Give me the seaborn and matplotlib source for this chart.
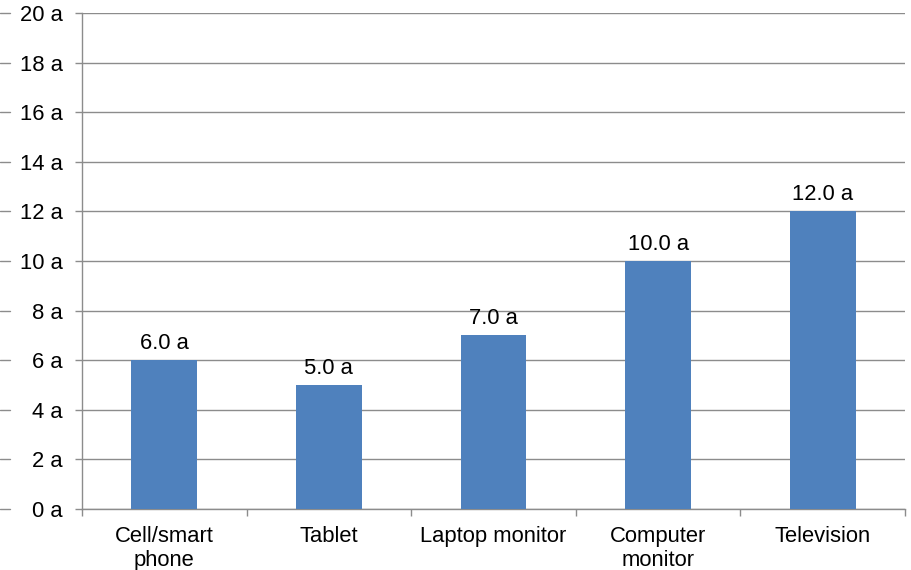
import matplotlib
matplotlib.use("Agg")
import matplotlib.pyplot as plt
import matplotlib.transforms as mtransforms
import seaborn as sns
import pandas as pd

categories = ["Cell/smart\nphone", "Tablet", "Laptop monitor", "Computer\nmonitor", "Television"]
lifetimes = [6.0, 5.0, 7.0, 10.0, 12.0]
y_ticks = [0, 2, 4, 6, 8, 10, 12, 14, 16, 18, 20]
y_tick_labels = [f"{v} a" for v in y_ticks]

sns.set_theme(style="white")
plt.rcParams["font.family"] = ["Liberation Sans", "DejaVu Sans"]

FS = 15.8
df = pd.DataFrame({"device": categories, "years": lifetimes})

fig = plt.figure(figsize=(9.11, 5.70), dpi=100)
ax = fig.add_axes([82 / 911, 1 - 509 / 570, (905 - 82) / 911, (509 - 13) / 570])

grid_color = "#8c8c8c"
sns.barplot(data=df, x="device", y="years", color="#4f81bd", saturation=1,
            width=0.4, linewidth=0, ax=ax, zorder=3)

ax.set_ylim(0, 20)
ax.set_xlim(-0.5, len(categories) - 0.5)
ax.set_yticks(y_ticks)
ax.set_yticklabels(y_tick_labels)
ax.set_xlabel("")
ax.set_ylabel("")
ax.yaxis.grid(True, color=grid_color, linewidth=1)
ax.set_axisbelow(True)

for side in ("top", "right"):
    ax.spines[side].set_visible(False)
for side in ("left", "bottom"):
    ax.spines[side].set_color(grid_color)
    ax.spines[side].set_linewidth(1)

ax.tick_params(axis="y", which="major", left=True, length=5, width=1,
               color=grid_color, pad=9, labelsize=FS, labelcolor="black")
# category separators drawn as minor ticks on the x axis
ax.set_xticks([i + 0.5 for i in range(-1, len(categories))], minor=True)
ax.tick_params(axis="x", which="minor", bottom=True, length=5, width=1, color=grid_color)
ax.tick_params(axis="x", which="major", bottom=False, length=0, pad=12, labelsize=FS,
               labelcolor="black")
for lbl in ax.get_xticklabels():
    lbl.set_linespacing(1.22)

for i, v in enumerate(lifetimes):
    ax.text(i, v + 0.25, f"{v:.1f} a", ha="center", va="bottom",
            fontsize=FS, color="black", zorder=4)

# short marks at the far left edge beside each gridline level
trans = mtransforms.blended_transform_factory(fig.transFigure, ax.transData)
for v in y_ticks:
    ax.plot([0, 10 / 911], [v, v], transform=trans, color=grid_color,
            linewidth=1, clip_on=False)

fig.savefig("out.png", dpi=100)
